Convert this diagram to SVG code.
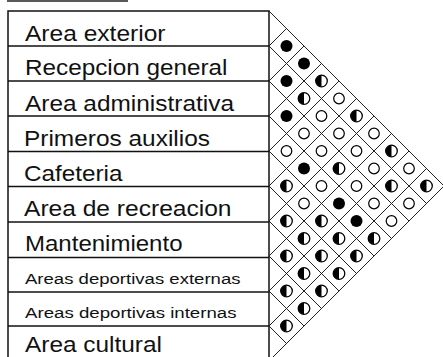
<svg xmlns="http://www.w3.org/2000/svg" xmlns:xlink="http://www.w3.org/1999/xlink" width="443" height="357" viewBox="0 0 443 357">
<style>
.bg{fill:#ffffff}
.tbl{fill:none;stroke:#111;stroke-width:1.5}
.grid{fill:none;stroke:#222;stroke-width:1}
.lbl{font-family:"Liberation Sans",Arial,sans-serif;font-size:22px;fill:#111}
.sm{font-size:15.5px}
</style>
<defs>
<g id="f"><circle r="6" fill="#000"/></g>
<g id="e"><circle r="5.3" fill="#fff" stroke="#000" stroke-width="1.2"/></g>
<g id="h"><circle r="5.8" fill="#fff" stroke="#000" stroke-width="1.3"/><path d="M0,-5.8 A5.8,5.8 0 0 0 0,5.8 Z" fill="#000"/></g>
</defs>
<rect class="bg" x="0" y="0" width="443" height="357"/>
<line x1="7" y1="1" x2="128" y2="1" stroke="#222" stroke-width="1.5"/>
<g id="table">
<rect class="tbl" x="8" y="11" width="261" height="350"/>
</g>
<g id="row0"><line class="tbl" x1="8" y1="46" x2="269" y2="46"/><text class="lbl" x="25" y="40.5" textLength="140.5" lengthAdjust="spacingAndGlyphs">Area exterior</text></g>
<g id="row1"><line class="tbl" x1="8" y1="81" x2="269" y2="81"/><text class="lbl" x="25" y="75" textLength="202.5" lengthAdjust="spacingAndGlyphs">Recepcion general</text></g>
<g id="row2"><line class="tbl" x1="8" y1="116" x2="269" y2="116"/><text class="lbl" x="25" y="110.5" textLength="209" lengthAdjust="spacingAndGlyphs">Area administrativa</text></g>
<g id="row3"><line class="tbl" x1="8" y1="151.5" x2="269" y2="151.5"/><text class="lbl" x="24" y="145.5" textLength="186" lengthAdjust="spacingAndGlyphs">Primeros auxilios</text></g>
<g id="row4"><line class="tbl" x1="8" y1="186.5" x2="269" y2="186.5"/><text class="lbl" x="24" y="181" textLength="98.5" lengthAdjust="spacingAndGlyphs">Cafeteria</text></g>
<g id="row5"><line class="tbl" x1="8" y1="222" x2="269" y2="222"/><text class="lbl" x="24" y="216" textLength="207.5" lengthAdjust="spacingAndGlyphs">Area de recreacion</text></g>
<g id="row6"><line class="tbl" x1="8" y1="257.5" x2="269" y2="257.5"/><text class="lbl" x="25" y="251" textLength="157.5" lengthAdjust="spacingAndGlyphs">Mantenimiento</text></g>
<g id="row7"><line class="tbl" x1="8" y1="292" x2="269" y2="292"/><text class="lbl sm" x="25" y="283.5" textLength="215.5" lengthAdjust="spacingAndGlyphs">Areas deportivas externas</text></g>
<g id="row8"><line class="tbl" x1="8" y1="326" x2="269" y2="326"/><text class="lbl sm" x="25" y="317.5" textLength="211.5" lengthAdjust="spacingAndGlyphs">Areas deportivas internas</text></g>
<g id="row9"><text class="lbl" x="25" y="352" textLength="137" lengthAdjust="spacingAndGlyphs">Area cultural</text></g>
<g id="connectors" class="grid">
<line x1="269" y1="11" x2="444" y2="186"/>
<line x1="269" y1="46" x2="426.5" y2="203.5"/>
<line x1="269" y1="81" x2="409" y2="221"/>
<line x1="269" y1="116" x2="391.5" y2="238.5"/>
<line x1="269" y1="151" x2="374" y2="256"/>
<line x1="269" y1="186" x2="356.5" y2="273.5"/>
<line x1="269" y1="221" x2="339" y2="291"/>
<line x1="269" y1="256" x2="321.5" y2="308.5"/>
<line x1="269" y1="291" x2="304" y2="326"/>
<line x1="269" y1="326" x2="286.5" y2="343.5"/>
<line x1="269" y1="46" x2="286.5" y2="28.5"/>
<line x1="269" y1="81" x2="304" y2="46"/>
<line x1="269" y1="116" x2="321.5" y2="63.5"/>
<line x1="269" y1="151" x2="339" y2="81"/>
<line x1="269" y1="186" x2="356.5" y2="98.5"/>
<line x1="269" y1="221" x2="374" y2="116"/>
<line x1="269" y1="256" x2="391.5" y2="133.5"/>
<line x1="269" y1="291" x2="409" y2="151"/>
<line x1="269" y1="326" x2="426.5" y2="168.5"/>
<line x1="269" y1="361" x2="444" y2="186"/>
</g>
<g id="cells">
<use xlink:href="#f" x="286.5" y="46"/>
<use xlink:href="#f" x="304" y="63.5"/>
<use xlink:href="#f" x="286.5" y="81"/>
<use xlink:href="#h" x="321.5" y="81"/>
<use xlink:href="#h" x="304" y="98.5"/>
<use xlink:href="#e" x="339" y="98.5"/>
<use xlink:href="#f" x="286.5" y="116"/>
<use xlink:href="#e" x="321.5" y="116"/>
<use xlink:href="#h" x="356.5" y="116"/>
<use xlink:href="#e" x="304" y="133.5"/>
<use xlink:href="#e" x="339" y="133.5"/>
<use xlink:href="#e" x="374" y="133.5"/>
<use xlink:href="#e" x="286.5" y="151"/>
<use xlink:href="#e" x="321.5" y="151"/>
<use xlink:href="#e" x="356.5" y="151"/>
<use xlink:href="#h" x="391.5" y="151"/>
<use xlink:href="#f" x="304" y="168.5"/>
<use xlink:href="#h" x="339" y="168.5"/>
<use xlink:href="#e" x="374" y="168.5"/>
<use xlink:href="#e" x="409" y="168.5"/>
<use xlink:href="#h" x="286.5" y="186"/>
<use xlink:href="#e" x="321.5" y="186"/>
<use xlink:href="#e" x="356.5" y="186"/>
<use xlink:href="#h" x="391.5" y="186"/>
<use xlink:href="#h" x="426.5" y="186"/>
<use xlink:href="#e" x="304" y="203.5"/>
<use xlink:href="#f" x="339" y="203.5"/>
<use xlink:href="#e" x="374" y="203.5"/>
<use xlink:href="#e" x="409" y="203.5"/>
<use xlink:href="#h" x="286.5" y="221"/>
<use xlink:href="#h" x="321.5" y="221"/>
<use xlink:href="#f" x="356.5" y="221"/>
<use xlink:href="#e" x="391.5" y="221"/>
<use xlink:href="#h" x="304" y="238.5"/>
<use xlink:href="#h" x="339" y="238.5"/>
<use xlink:href="#h" x="374" y="238.5"/>
<use xlink:href="#h" x="286.5" y="256"/>
<use xlink:href="#h" x="321.5" y="256"/>
<use xlink:href="#h" x="356.5" y="256"/>
<use xlink:href="#h" x="304" y="273.5"/>
<use xlink:href="#h" x="339" y="273.5"/>
<use xlink:href="#h" x="286.5" y="291"/>
<use xlink:href="#h" x="321.5" y="291"/>
<use xlink:href="#h" x="304" y="308.5"/>
<use xlink:href="#h" x="286.5" y="326"/>
</g>
</svg>
